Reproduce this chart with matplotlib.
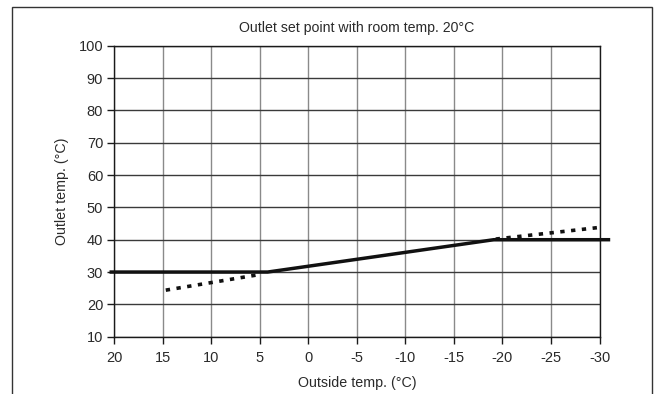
import matplotlib.pyplot as plt
from matplotlib.patches import Rectangle

plt.rcParams['font.family'] = ['Liberation Sans', 'DejaVu Sans']

# heating curve
solid_x = [20.5, 4.2, -19.1, -31.1]
solid_y = [30, 30, 40, 40]
dot_left_x = [14.7, 5.3]
dot_left_y = [24.4, 29.1]
dot_right_x = [-19.3, -30]
dot_right_y = [40.2, 43.8]

x_ticks = [20, 15, 10, 5, 0, -5, -10, -15, -20, -25, -30]
y_ticks = [10, 20, 30, 40, 50, 60, 70, 80, 90, 100]

fig = plt.figure(figsize=(6.61, 3.94), dpi=100)
ax = fig.add_axes([0.173, 0.1454, 0.734, 0.7386])

# outer frame (bottom edge cut off)
fig.patches.append(Rectangle((11.7 / 661, -0.1), (652 - 11.7) / 661, 1.1 - 7 / 394,
                             transform=fig.transFigure, fill=False,
                             edgecolor='#333333', linewidth=1.0))

for v in x_ticks:
    ax.axvline(v, color='#8a8a8a', linewidth=1.0, zorder=1)
for v in y_ticks:
    ax.axhline(v, color='#3a3a3a', linewidth=1.0, zorder=1)

ax.plot(solid_x, solid_y, color='#111111', linewidth=2.5, solid_capstyle='butt',
        clip_on=False, zorder=3)
ax.plot(dot_left_x, dot_left_y, color='#111111', linewidth=2.6,
        linestyle=(0, (1.2, 1.8)), dash_capstyle='butt', zorder=3)
ax.plot(dot_right_x, dot_right_y, color='#111111', linewidth=2.6,
        linestyle=(0, (1.2, 1.8)), dash_capstyle='butt', zorder=3)

ax.set_xlim(20, -30)
ax.set_ylim(10, 100)
ax.set_xticks(x_ticks)
ax.set_xticklabels([str(v) for v in x_ticks])
ax.set_yticks(y_ticks)
ax.tick_params(direction='out', length=5, width=1.0, labelsize=10.5,
               colors='#1a1a1a', labelcolor='#2a2a2a')
ax.tick_params(axis='x', pad=5)
ax.tick_params(axis='y', pad=3)
for s in ax.spines.values():
    s.set_color('#1a1a1a')
    s.set_linewidth(1.0)

ax.set_title('Outlet set point with room temp. 20°C', fontsize=10.2, pad=10,
             color='#2a2a2a')
ax.set_xlabel('Outside temp. (°C)', fontsize=10.3, labelpad=8, color='#2a2a2a')
ax.set_ylabel('Outlet temp. (°C)', fontsize=10.3, labelpad=7, color='#2a2a2a')

fig.savefig('out.png', dpi=100)
